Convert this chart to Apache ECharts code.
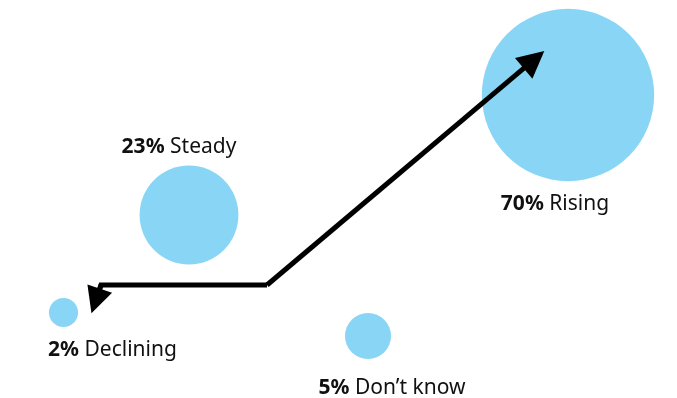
<!DOCTYPE html>
<html><head><meta charset="utf-8">
<script src="https://cdn.jsdelivr.net/npm/echarts@6/dist/echarts.min.js"></script>
<style>html,body{margin:0;padding:0;background:#fff}#c{width:677px;height:398px}</style>
</head><body><div id="c"></div>
<script>
// Data
const categories = ['Rising', 'Steady', 'Declining', "Don\u2019t know"];
const shares = [70, 23, 2, 5];
// bubble positions on an abstract layout plane (x right, y down)
const posX = [568, 189, 63.5, 368];
const posY = [95, 215, 312.5, 336];
// arrow path: bend point -> Rising; bend point -> left -> Declining
const arrowUpX = [267, 534];
const arrowUpY = [285, 59.7];
const arrowLeftX = [267, 101, 96.5, 95.6];
const arrowLeftY = [285, 285, 299.4, 301];

const labelCfg = [
  {position: 'bottom', distance: 12, offset: [-13, 0]},
  {position: 'top', distance: 8, offset: [-10, 0]},
  {position: 'bottom', distance: 12, offset: [49, 0]},
  {position: 'bottom', distance: 18, offset: [24, 0]}
];

const chart = echarts.init(document.getElementById('c'));
const scatterData = categories.map((c, i) => ({
  name: c,
  value: [posX[i], posY[i], shares[i]],
  label: labelCfg[i]
}));

const lineStyle = {color: '#000', width: 5, opacity: 1, cap: 'butt', join: 'miter'};
chart.setOption({
  animation: false,
  grid: {left: 0, right: 0, top: 0, bottom: 0},
  xAxis: {type: 'value', min: 0, max: 677, show: false},
  yAxis: {type: 'value', min: 0, max: 398, inverse: true, show: false},
  series: [
    {
      type: 'scatter',
      data: scatterData,
      symbolSize: v => 20.6 * Math.sqrt(v[2]),
      itemStyle: {color: '#89d5f6', opacity: 1},
      label: {
        show: true,
        fontFamily: 'Noto Sans',
        fontSize: 21,
        color: '#111',
        formatter: p => '{b|' + p.value[2] + '%} ' + p.name,
        rich: {b: {fontWeight: 'bold', fontFamily: 'Noto Sans', fontSize: 21, color: '#111'}}
      },
      z: 1
    },
    {
      type: 'line',
      data: arrowLeftX.slice(0, 3).map((x, i) => [x, arrowLeftY[i]]),
      showSymbol: false, symbol: 'none',
      lineStyle: lineStyle, z: 3, silent: true
    },
    {
      type: 'lines',
      coordinateSystem: 'cartesian2d',
      symbol: ['none', 'triangle'],
      lineStyle: lineStyle,
      z: 3,
      data: [
        {coords: [[arrowUpX[0], arrowUpY[0]], [arrowUpX[1], arrowUpY[1]]], symbolSize: [21, 27]},
        {coords: [[arrowLeftX[1], arrowLeftY[1]], [arrowLeftX[3], arrowLeftY[3]]], symbolSize: [22, 26]}
      ]
    }
  ]
});
</script></body></html>
